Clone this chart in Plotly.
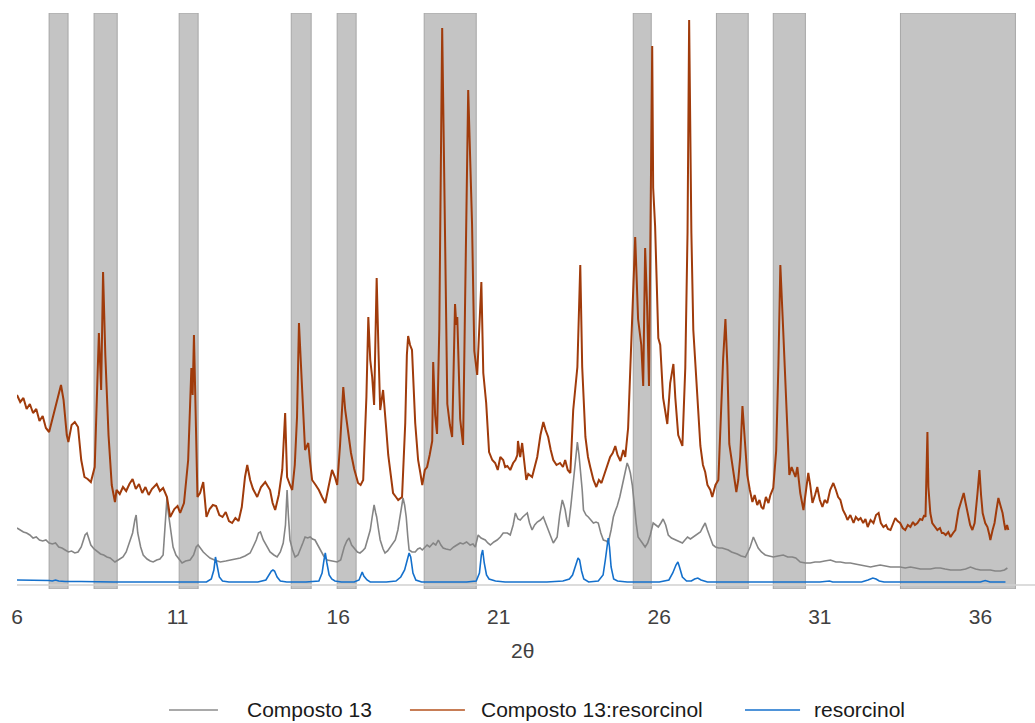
import plotly.graph_objects as go

# 2-theta positions and intensities (arbitrary units) for each pattern
res13_x = [
    6.0, 6.1, 6.2, 6.3, 6.4, 6.5, 6.6, 6.7, 6.8, 6.9,
    7.0, 7.1, 7.2, 7.3, 7.37, 7.45, 7.55, 7.6, 7.7, 7.8,
    7.9, 8.0, 8.1, 8.2, 8.3, 8.42, 8.5, 8.55, 8.62, 8.68,
    8.75, 8.85, 8.95, 9.05, 9.1, 9.2, 9.3, 9.4, 9.5, 9.6,
    9.7, 9.8, 9.9, 10.0, 10.1, 10.2, 10.35, 10.45, 10.55, 10.67,
    10.77, 10.9, 11.0, 11.08, 11.2, 11.33, 11.43, 11.47, 11.51, 11.57,
    11.62, 11.7, 11.8, 11.9, 12.0, 12.1, 12.2, 12.3, 12.4, 12.5,
    12.6, 12.7, 12.8, 12.9, 13.0, 13.1, 13.17, 13.26, 13.35, 13.48,
    13.6, 13.73, 13.8, 13.88, 13.96, 14.04, 14.15, 14.26, 14.35, 14.41,
    14.5, 14.57, 14.65, 14.72, 14.78, 14.84, 14.88, 14.97, 15.07, 15.12,
    15.19, 15.3, 15.4, 15.5, 15.6, 15.7, 15.81, 15.9, 15.97, 16.06,
    16.16, 16.22, 16.31, 16.4, 16.5, 16.62, 16.7, 16.78, 16.88, 16.94,
    17.0, 17.06, 17.12, 17.2, 17.26, 17.31, 17.4, 17.45, 17.5, 17.56,
    17.62, 17.71, 17.8, 17.87, 17.99, 18.09, 18.14, 18.18, 18.24, 18.3,
    18.4, 18.49, 18.56, 18.62, 18.7, 18.77, 18.85, 18.93, 18.96, 19.02,
    19.08, 19.15, 19.24, 19.27, 19.35, 19.4, 19.48, 19.55, 19.64, 19.68,
    19.71, 19.8, 19.89, 19.95, 20.05, 20.17, 20.24, 20.33, 20.46, 20.52,
    20.61, 20.7, 20.8, 20.89, 20.97, 21.05, 21.14, 21.2, 21.27, 21.36,
    21.45, 21.52, 21.58, 21.6, 21.67, 21.73, 21.8, 21.86, 21.92, 22.04,
    22.12, 22.2, 22.3, 22.39, 22.46, 22.54, 22.62, 22.7, 22.8, 22.91,
    23.0, 23.07, 23.15, 23.23, 23.32, 23.45, 23.54, 23.6, 23.7, 23.78,
    23.85, 23.95, 24.04, 24.12, 24.2, 24.26, 24.35, 24.47, 24.55, 24.63,
    24.7, 24.79, 24.88, 24.94, 25.03, 25.1, 25.16, 25.25, 25.34, 25.44,
    25.5, 25.56, 25.62, 25.68, 25.78, 25.81, 25.87, 25.97, 26.03, 26.12,
    26.25, 26.34, 26.44, 26.5, 26.59, 26.72, 26.81, 26.88, 26.93, 27.0,
    27.06, 27.18, 27.28, 27.36, 27.43, 27.5, 27.59, 27.65, 27.75, 27.84,
    27.9, 27.99, 28.06, 28.12, 28.18, 28.25, 28.31, 28.4, 28.46, 28.52,
    28.59, 28.65, 28.74, 28.82, 28.9, 28.97, 29.05, 29.12, 29.18, 29.24,
    29.32, 29.4, 29.46, 29.55, 29.64, 29.71, 29.77, 29.86, 29.96, 30.05,
    30.12, 30.24, 30.3, 30.39, 30.49, 30.57, 30.64, 30.7, 30.77, 30.85,
    30.92, 31.0, 31.08, 31.15, 31.23, 31.32, 31.42, 31.5, 31.57, 31.64,
    31.72, 31.8, 31.86, 31.95, 32.05, 32.12, 32.2, 32.27, 32.35, 32.42,
    32.49, 32.58, 32.67, 32.75, 32.83, 32.9, 32.98, 33.06, 33.12, 33.2,
    33.28, 33.35, 33.42, 33.5, 33.58, 33.66, 33.74, 33.82, 33.9, 33.96,
    34.04, 34.12, 34.19, 34.25, 34.29, 34.33, 34.35, 34.38, 34.44, 34.5,
    34.58, 34.66, 34.74, 34.8, 34.85, 34.92, 35.0, 35.07, 35.15, 35.22,
    35.32, 35.4, 35.48, 35.54, 35.6, 35.68, 35.75, 35.82, 35.91, 35.97,
    36.02, 36.07, 36.15, 36.22, 36.28, 36.31, 36.38, 36.44, 36.5, 36.56,
    36.62, 36.69, 36.74, 36.78, 36.83, 36.87,
]
res13_y = [
    190, 183, 187, 176, 181, 172, 176, 164, 169, 157,
    153, 166, 181, 193, 200, 185, 150, 143, 160, 163,
    158, 125, 108, 106, 103, 118, 200, 252, 195, 313,
    230, 150, 100, 83, 95, 91, 98, 94, 101, 106,
    96, 101, 92, 98, 90, 96, 101, 94, 97, 88,
    68, 76, 79, 72, 82, 125, 217, 190, 250, 150,
    88, 92, 103, 68, 76, 80, 79, 70, 68, 73,
    64, 62, 67, 64, 78, 108, 120, 105, 96, 88,
    98, 103, 99, 95, 82, 75, 90, 115, 172, 108,
    100, 95, 120, 168, 262, 210, 195, 135, 142, 125,
    105, 100, 95, 88, 82, 98, 115, 108, 100, 140,
    198, 175, 153, 132, 116, 102, 100, 105, 188, 268,
    225, 208, 180, 307, 230, 175, 195, 170, 155, 130,
    115, 92, 88, 85, 88, 162, 230, 249, 240, 235,
    162, 125, 112, 100, 115, 118, 130, 144, 223, 170,
    151, 256, 557, 473, 300, 181, 160, 148, 281, 260,
    268, 166, 140, 275, 495, 361, 234, 210, 303, 212,
    182, 133, 125, 122, 115, 128, 125, 118, 119, 115,
    122, 125, 130, 144, 128, 142, 120, 105, 111, 108,
    118, 128, 150, 163, 155, 148, 135, 125, 120, 122,
    118, 125, 115, 112, 175, 218, 320, 218, 148, 128,
    118, 105, 98, 105, 102, 108, 118, 128, 132, 139,
    130, 124, 135, 128, 157, 225, 273, 348, 266, 240,
    199, 337, 280, 199, 539, 397, 359, 247, 240, 187,
    161, 202, 221, 187, 150, 139, 217, 352, 565, 352,
    255, 191, 139, 120, 113, 100, 95, 88, 100, 105,
    155, 227, 266, 220, 141, 125, 110, 93, 105, 128,
    179, 155, 110, 95, 83, 90, 80, 85, 78, 76,
    88, 82, 90, 97, 134, 220, 320, 254, 168, 110,
    118, 108, 118, 92, 75, 95, 112, 100, 82, 90,
    98, 85, 78, 85, 82, 95, 102, 95, 88, 85,
    75, 70, 65, 70, 62, 68, 65, 67, 62, 66,
    58, 65, 62, 70, 72, 62, 58, 60, 56, 55,
    62, 67, 64, 62, 57, 55, 60, 58, 63, 60,
    62, 66, 65, 70, 68, 120, 153, 98, 72, 62,
    58, 55, 57, 52, 52, 50, 53, 48, 52, 55,
    75, 85, 92, 82, 72, 60, 55, 62, 92, 115,
    90, 72, 62, 58, 50, 45, 55, 62, 75, 87,
    80, 72, 62, 55, 60, 55,
]

c13_x = [
    6.0, 6.1, 6.2, 6.3, 6.4, 6.5, 6.6, 6.7, 6.8, 6.9,
    7.0, 7.1, 7.2, 7.3, 7.4, 7.5, 7.6, 7.7, 7.8, 7.9,
    8.0, 8.05, 8.12, 8.18, 8.24, 8.3, 8.4, 8.5, 8.6, 8.7,
    8.8, 8.9, 9.0, 9.05, 9.15, 9.3, 9.4, 9.5, 9.6, 9.67,
    9.71, 9.76, 9.85, 9.93, 10.05, 10.15, 10.24, 10.35, 10.45, 10.55,
    10.6, 10.64, 10.67, 10.7, 10.78, 10.86, 10.95, 11.02, 11.14, 11.25,
    11.39, 11.5, 11.58, 11.64, 11.72, 11.8, 11.9, 12.01, 12.15, 12.33,
    12.5, 12.64, 12.8, 12.95, 13.1, 13.26, 13.35, 13.45, 13.52, 13.58,
    13.67, 13.78, 13.88, 14.0, 14.1, 14.2, 14.29, 14.36, 14.41, 14.45,
    14.5, 14.58, 14.66, 14.75, 14.82, 14.9, 14.97, 15.05, 15.13, 15.2,
    15.28, 15.36, 15.44, 15.55, 15.66, 15.8, 15.97, 16.08, 16.19, 16.27,
    16.34, 16.42, 16.53, 16.6, 16.68, 16.76, 16.84, 16.92, 17.0, 17.06,
    17.12, 17.17, 17.2, 17.26, 17.31, 17.4, 17.46, 17.54, 17.62, 17.7,
    17.78, 17.86, 17.93, 18.02, 18.07, 18.12, 18.17, 18.21, 18.3, 18.4,
    18.48, 18.55, 18.62, 18.7, 18.77, 18.85, 18.96, 19.04, 19.12, 19.2,
    19.27, 19.36, 19.49, 19.6, 19.71, 19.8, 19.89, 20.0, 20.11, 20.2,
    20.27, 20.36, 20.45, 20.58, 20.66, 20.74, 20.85, 20.95, 21.05, 21.14,
    21.27, 21.36, 21.45, 21.52, 21.6, 21.67, 21.75, 21.82, 21.89, 21.96,
    22.04, 22.12, 22.2, 22.3, 22.39, 22.46, 22.54, 22.62, 22.7, 22.76,
    22.82, 22.9, 22.98, 23.03, 23.07, 23.12, 23.17, 23.25, 23.32, 23.4,
    23.45, 23.5, 23.54, 23.6, 23.64, 23.72, 23.79, 23.87, 23.95, 24.03,
    24.1, 24.18, 24.26, 24.35, 24.41, 24.5, 24.57, 24.63, 24.69, 24.77,
    24.85, 24.93, 25.0, 25.05, 25.1, 25.16, 25.22, 25.28, 25.34, 25.41,
    25.5, 25.56, 25.64, 25.72, 25.81, 25.9, 25.97, 26.05, 26.12, 26.2,
    26.28, 26.38, 26.5, 26.6, 26.72, 26.8, 26.88, 26.97, 27.06, 27.16,
    27.28, 27.36, 27.43, 27.5, 27.59, 27.67, 27.75, 27.85, 27.96, 28.05,
    28.15, 28.25, 28.35, 28.43, 28.55, 28.68, 28.76, 28.83, 28.93, 29.0,
    29.08, 29.18, 29.3, 29.42, 29.55, 29.7, 29.86, 30.0, 30.14, 30.25,
    30.39, 30.55, 30.7, 30.85, 31.0, 31.15, 31.33, 31.5, 31.64, 31.8,
    31.95, 32.1, 32.26, 32.42, 32.58, 32.72, 32.88, 33.04, 33.2, 33.35,
    33.5, 33.66, 33.82, 33.98, 34.13, 34.3, 34.44, 34.6, 34.75, 34.9,
    35.07, 35.22, 35.38, 35.54, 35.69, 35.85, 36.0, 36.15, 36.31, 36.46,
    36.62, 36.75, 36.84,
]
c13_y = [
    57, 55, 53, 52, 50, 47, 48, 45, 44, 45,
    42, 41, 42, 38, 37, 35, 33, 34, 32, 33,
    38, 43, 50, 52, 45, 40, 36, 33, 31, 30,
    28, 27, 24, 23, 25, 28, 33, 42, 52, 65,
    70, 52, 38, 30, 26, 24, 23, 25, 26, 30,
    50, 75, 87, 75, 55, 38, 30, 27, 22, 24,
    25, 30, 38, 40, 36, 33, 30, 27, 25, 23,
    24, 25, 26, 27, 29, 32, 38, 45, 52, 53,
    45, 38, 33, 30, 28, 33, 42, 60, 95, 70,
    45, 35, 28, 30, 35, 42, 48, 47, 48, 46,
    45, 40, 35, 29, 25, 24, 23, 25, 38, 44,
    47, 40, 35, 33, 32, 34, 37, 45, 55, 68,
    80, 72, 68, 55, 45, 36, 32, 34, 38, 42,
    45, 55, 68, 87, 80, 68, 48, 35, 33, 33,
    36, 37, 35, 38, 40, 38, 42, 40, 45, 40,
    37, 36, 35, 38, 40, 42, 41, 43, 40, 41,
    38, 50, 47, 45, 42, 40, 43, 45, 48, 52,
    52, 50, 60, 72, 66, 65, 68, 70, 72, 62,
    55, 60, 63, 65, 68, 62, 55, 48, 42, 45,
    48, 70, 85, 80, 75, 65, 58, 80, 102, 125,
    143, 130, 118, 95, 75, 70, 68, 65, 62, 63,
    62, 52, 45, 44, 42, 55, 68, 74, 79, 88,
    100, 113, 122, 118, 112, 100, 80, 62, 48, 45,
    40, 38, 42, 50, 62, 60, 58, 62, 66, 60,
    50, 47, 45, 44, 42, 45, 48, 46, 48, 50,
    53, 58, 62, 55, 46, 40, 38, 37, 37, 36,
    35, 33, 32, 31, 29, 28, 33, 38, 48, 42,
    37, 33, 30, 29, 28, 29, 30, 28, 28, 27,
    23, 22, 22, 23, 23, 24, 25, 23, 23, 22,
    22, 21, 20, 19, 18, 19, 20, 19, 18, 18,
    18, 17, 18, 17, 16, 16, 16, 17, 17, 16,
    15, 15, 15, 16, 18, 16, 15, 15, 15, 14,
    14, 15, 17,
]

res_x = [
    6.0, 6.5, 7.0, 7.1, 7.2, 7.3, 7.5, 8.0, 8.5, 9.0,
    9.5, 10.0, 10.5, 11.0, 11.5, 11.9, 12.05, 12.13, 12.18, 12.22,
    12.3, 12.4, 12.6, 13.0, 13.5, 13.75, 13.85, 13.92, 13.97, 14.02,
    14.1, 14.2, 14.4, 15.0, 15.4, 15.5, 15.56, 15.6, 15.65, 15.72,
    15.8, 15.9, 16.1, 16.5, 16.65, 16.72, 16.75, 16.8, 16.9, 17.0,
    17.5, 17.8, 17.95, 18.07, 18.15, 18.21, 18.26, 18.33, 18.42, 18.6,
    19.0, 20.0, 20.3, 20.4, 20.46, 20.5, 20.55, 20.62, 20.7, 20.9,
    21.2, 21.5, 22.0, 22.5, 23.0, 23.2, 23.3, 23.4, 23.47, 23.52,
    23.58, 23.65, 23.8, 24.1, 24.25, 24.32, 24.38, 24.41, 24.45, 24.5,
    24.58, 24.7, 25.0, 25.5, 26.0, 26.3, 26.42, 26.52, 26.58, 26.63,
    26.72, 26.85, 27.0, 27.1, 27.2, 27.3, 27.5, 28.0, 29.0, 29.5,
    30.0, 30.5, 31.0, 31.3, 31.4, 32.0, 32.3, 32.5, 32.65, 32.75,
    32.85, 33.0, 34.0, 35.0, 36.0, 36.15, 36.3, 36.78,
]
res_y = [
    5, 5, 4.5, 4, 5, 4, 3.5, 3.5, 3, 3,
    3, 3, 3, 2.5, 2.5, 3, 6, 15, 28, 20,
    8, 4, 3, 3, 3, 5, 10, 14, 15, 14,
    8, 4, 3, 3, 4, 12, 25, 32, 22, 10,
    6, 4, 3, 3, 5, 11, 13, 9, 5, 3,
    3, 4, 8, 15, 25, 32, 28, 12, 5, 3,
    3, 3, 4, 12, 30, 35, 22, 10, 6, 4,
    3, 3, 3, 3, 4, 6, 10, 20, 27, 25,
    14, 6, 3, 4, 10, 25, 40, 47, 38, 18,
    6, 4, 3, 3, 3, 5, 12, 20, 23, 18,
    8, 4, 4, 6, 7, 5, 3, 3, 3, 3,
    3, 3, 3, 4, 3, 3, 3, 5, 7, 6,
    4, 3, 3, 3, 3, 4.5, 3, 3,
]

# highlighted 2-theta windows (start, end)
band_start = [7.0, 8.40, 11.05, 14.54, 15.97, 18.68, 25.19, 27.78, 29.55, 33.51]
band_end = [7.59, 9.12, 11.64, 15.16, 16.56, 20.30, 25.75, 28.77, 30.55, 37.09]

tick_vals = [6, 11, 16, 21, 26, 31, 36]
x_range = [6, 37.7]
y_top = 572

series = [
    ("Composto 13", c13_x, c13_y, "#858585", 1.6),
    ("Composto 13:resorcinol", res13_x, res13_y, "#a03b0b", 2.0),
    ("resorcinol", res_x, res_y, "#1470cc", 1.6),
]

FONT = "Liberation Sans, Arial, sans-serif"
TEXT_COLOR = "#404040"

fig = go.Figure()

for name, xs, ys, color, width in series:
    fig.add_trace(go.Scatter(
        x=xs, y=ys, mode="lines", name=name,
        line=dict(color=color, width=width),
        showlegend=False, hoverinfo="x+y+name",
    ))

shapes = []
for x0, x1 in zip(band_start, band_end):
    shapes.append(dict(
        type="rect", xref="x", yref="y", x0=x0, x1=x1, y0=-4, y1=y_top,
        fillcolor="#c4c4c4", line=dict(color="#a6a6a6", width=1), layer="below",
    ))
# horizontal axis line at zero intensity
shapes.append(dict(
    type="line", xref="x", yref="y", x0=x_range[0], x1=x_range[1], y0=0, y1=0,
    line=dict(color="#d0d0d0", width=1.5), layer="above",
))

# legend drawn as line samples with labels below the axis title
legend_y = -0.21
legend_items = [
    ("Composto 13", "#8c8c8c", 0.1493, 0.1974, 0.2240),
    ("Composto 13:resorcinol", "#b4521e", 0.3860, 0.4400, 0.4538),
    ("resorcinol", "#1470cc", 0.7151, 0.7692, 0.7810),
]
annotations = []
for label, color, lx0, lx1, tx in legend_items:
    shapes.append(dict(
        type="line", xref="paper", yref="paper", x0=lx0, x1=lx1,
        y0=legend_y, y1=legend_y, line=dict(color=color, width=1.6),
    ))
    annotations.append(dict(
        xref="paper", yref="paper", x=tx, y=legend_y, text=label,
        showarrow=False, xanchor="left", yanchor="middle",
        font=dict(family=FONT, size=21, color="#1a1a1a"),
    ))

annotations.append(dict(
    xref="paper", yref="paper", x=0.497, y=-0.106, text="2θ",
    showarrow=False, xanchor="center", yanchor="middle",
    font=dict(family=FONT, size=21, color=TEXT_COLOR),
))

fig.update_layout(
    width=1035, height=723,
    margin=dict(l=17, r=0, t=13, b=134),
    paper_bgcolor="white", plot_bgcolor="white",
    shapes=shapes, annotations=annotations,
    xaxis=dict(
        range=x_range, tickvals=tick_vals, ticktext=[str(v) for v in tick_vals],
        showgrid=False, zeroline=False, showline=False,
        ticks="outside", ticklen=9, tickcolor="rgba(0,0,0,0)",
        tickfont=dict(family=FONT, size=21, color=TEXT_COLOR),
    ),
    yaxis=dict(
        range=[-4, y_top], visible=False, showgrid=False, zeroline=False,
    ),
    showlegend=False,
)

fig.write_html("out.html")
